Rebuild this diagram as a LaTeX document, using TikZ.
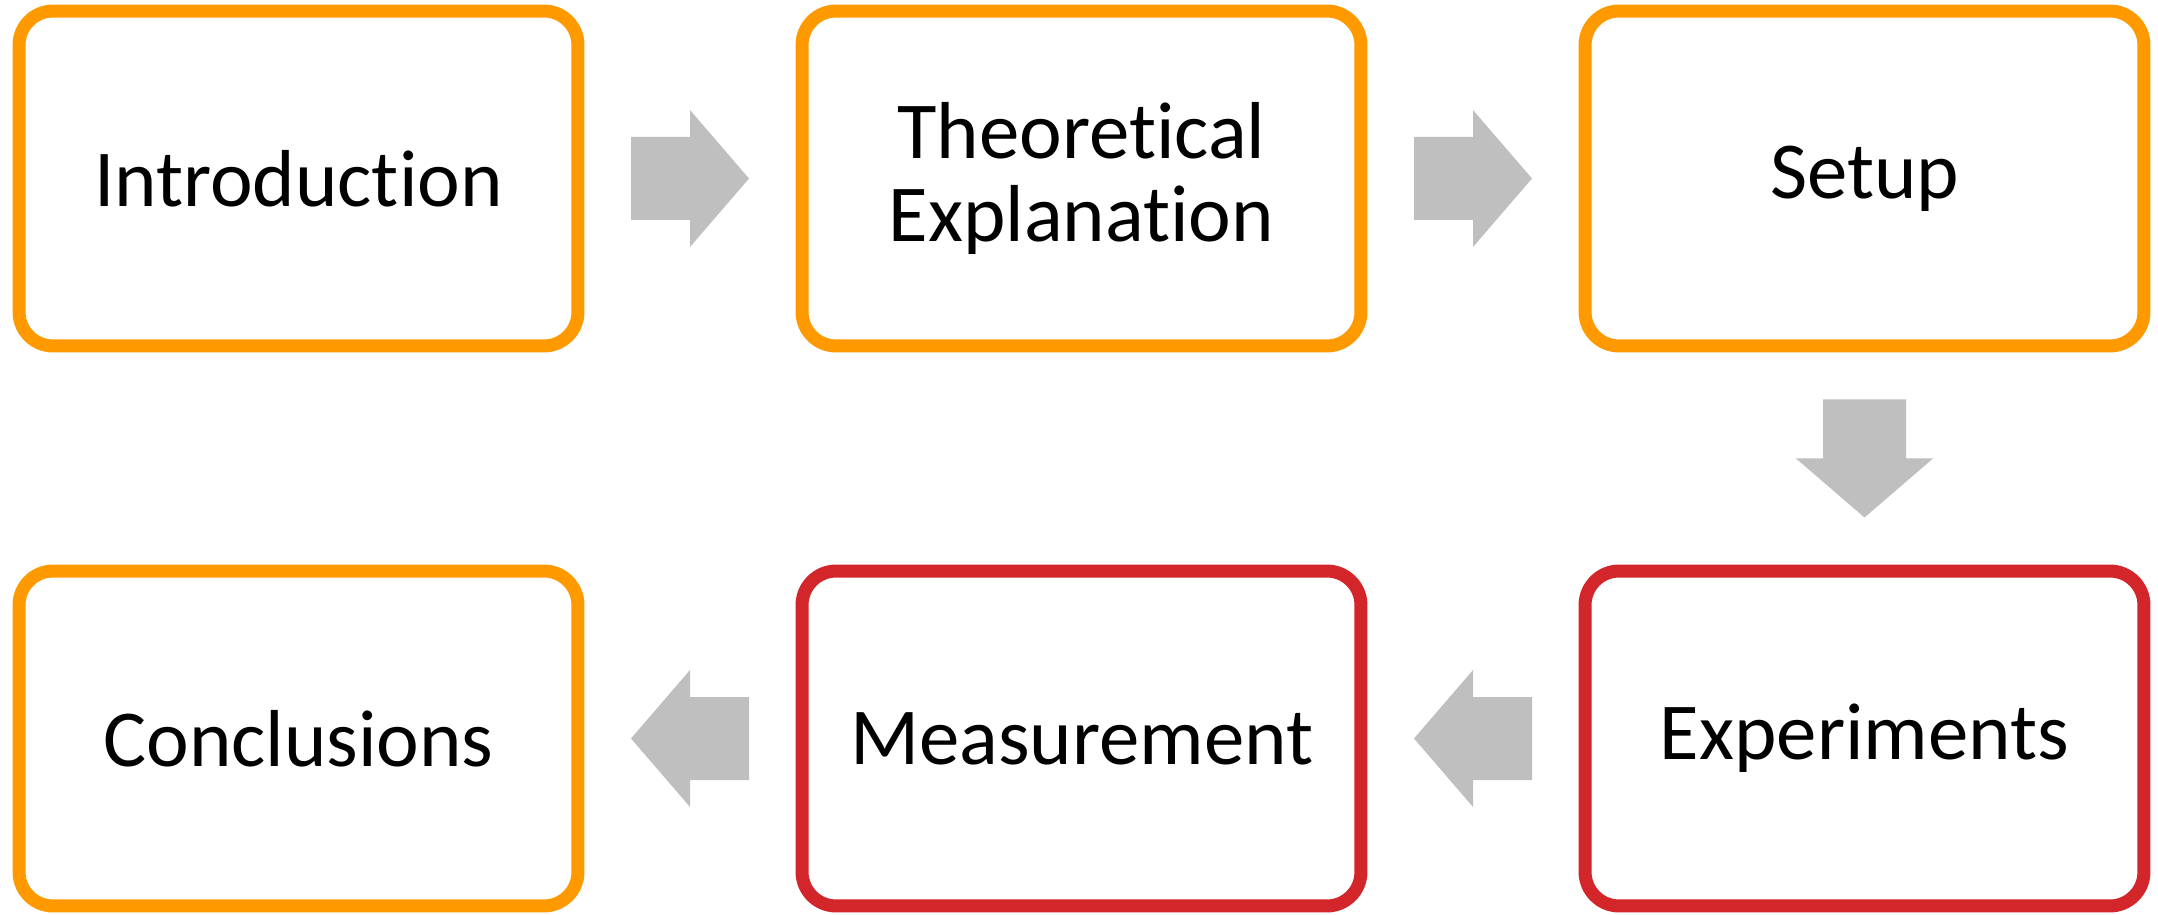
\documentclass[tikz,border=0pt]{standalone}
\usepackage{fontspec}
\setmainfont[Ligatures=NoCommon, Contextuals=NoAlternate, RawFeature={-liga;-dlig;-calt}]{Carlito}
\usepackage{tikz}
\definecolor{orangeline}{RGB}{255, 153, 0}
\definecolor{redline}{RGB}{211, 38, 42}
\definecolor{arrowgray}{RGB}{191, 191, 191}
\newcommand*{\boxw}{11.18cm}
\newcommand*{\boxh}{6.7cm}

\begin{document}
\begin{tikzpicture}[
   x=0.02cm, y=0.02cm,
   stepbox/.style={rectangle, rounded corners=0.68cm, draw=orangeline, fill=white,
                   line width=0.26cm, text=black, align=center, inner sep=0,
                   font=\fontsize{46}{47}\selectfont,
                   minimum width=\boxw, minimum height=\boxh},
   expbox/.style={stepbox, draw=redline},
   blockarrow/.pic={
     \fill[arrowgray] (-59, -41.5) -- (0, -41.5) -- (0, -68.5) -- (59, 0)
                      -- (0, 68.5) -- (0, 41.5) -- (-59, 41.5) -- cycle;
   }
  ]

  % Box Spacing
  \pgfmathsetmacro{\d}{783}

  \useasboundingbox (0, 0) rectangle (2158, 914);

  \node (intro) at (298.5 + 0 * \d, 735.5) [stepbox] {Introduction};

  \node (theory) at (298.5 + 1 * \d, 735.5) [stepbox] {Theoretical\\Explanation};

  \node (setup) at (298.5 + 2 * \d, 735.5) [stepbox] {Setup};

  \node (exper) at (298.5 + 2 * \d, 175.5) [expbox] {Experiments};

  \node (meas) at (298.5 + 1 * \d, 175.5) [expbox] {Measurement};

  \node (concl) at (298.5 + 0 * \d, 175.5) [stepbox] {Conclusions};

  \foreach \B/\E/\R in {intro/theory/0, theory/setup/0, setup/exper/-90,
                        exper/meas/180, meas/concl/180} {
    \path (\B) -- (\E) pic[pos=0.5, rotate=\R] {blockarrow};
  }

\end{tikzpicture}
\end{document}
